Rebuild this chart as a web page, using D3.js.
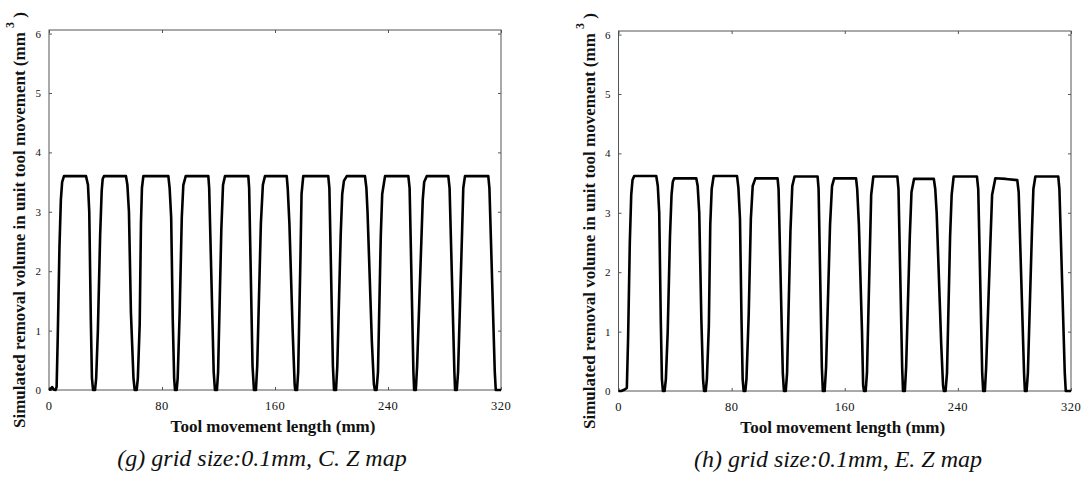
<!DOCTYPE html>
<html>
<head>
<meta charset="utf-8">
<script src="https://cdn.jsdelivr.net/npm/d3@7"></script>
<style>
  body { margin: 0; background: #fff; }
  svg { display: block; }
  text { font-family: "Liberation Serif", "Times New Roman", serif; fill: #111; }
</style>
</head>
<body>
<svg id="dessin" width="1085" height="483"></svg>
<script>
// axes
const xTicks = [0, 80, 160, 240, 320];
const yTicks = [0, 1, 2, 3, 4, 5, 6];

// (g) grid size 0.1mm, C. Z map (mm, mm3)
const gX = [0, 1.2, 2.2, 3.2, 4.6, 5.4, 6.2, 7.4, 8.4, 9.3, 10.6,
  26.2, 27.6, 28.5, 29.6, 30.4, 31.2, 32.6, 33.4, 34.6, 36.2, 37.3, 38.0, 38.9,
  54.5, 55.5, 56.6, 58.0, 59.8, 60.7, 62.1, 62.9, 64.2, 65.1, 65.8, 66.8,
  84.5, 85.4, 86.5, 87.6, 88.6, 89.2, 90.4, 91.1, 92.5, 94.0, 95.1, 96.8,
  112.8, 113.4, 116.6, 117.5, 118.9, 119.7, 122.0, 123.2, 124.6,
  141.1, 141.7, 144.1, 145.1, 146.5, 147.4, 150.0, 151.4, 152.9,
  168.3, 169.0, 170.2, 172.5, 173.9, 174.3, 175.6, 176.4, 178.0, 178.8, 180.0,
  197.7, 198.5, 201.0, 201.8, 203.2, 204.1, 206.5, 207.6, 208.8, 210.8,
  223.7, 224.7, 225.5, 228.6, 230.0, 230.7, 231.9, 232.9, 234.9, 235.9, 237.9,
  254.4, 255.3, 258.0, 258.5, 259.7, 260.6, 263.6, 264.6, 265.6, 267.4,
  282.7, 283.6, 287.0, 287.5, 288.7, 289.6, 292.5, 293.3, 294.5,
  311.0, 311.8, 315.6, 316.3, 320];
const gY = [0, 0.02, 0.05, 0.01, 0, 0.05, 0.9, 2.4, 3.2, 3.5, 3.6,
  3.6, 3.45, 3.0, 1.2, 0.2, 0, 0, 0.2, 1.0, 2.6, 3.35, 3.55, 3.6,
  3.6, 3.45, 3.0, 1.3, 0.2, 0, 0, 0.2, 1.1, 2.8, 3.4, 3.6,
  3.6, 3.4, 2.9, 1.2, 0.2, 0, 0, 0.2, 1.3, 2.9, 3.45, 3.6,
  3.6, 3.4, 0.3, 0, 0, 0.3, 2.7, 3.45, 3.6,
  3.6, 3.4, 0.4, 0, 0, 0.4, 2.8, 3.45, 3.6,
  3.6, 3.4, 2.8, 1.0, 0.1, 0, 0, 0.3, 2.2, 3.3, 3.6,
  3.6, 3.4, 0.4, 0, 0, 0.4, 2.6, 3.3, 3.52, 3.6,
  3.6, 3.4, 3.0, 0.8, 0.1, 0, 0, 0.3, 2.6, 3.3, 3.6,
  3.6, 3.4, 0.3, 0, 0, 0.4, 2.5, 3.2, 3.5, 3.6,
  3.6, 3.4, 0.3, 0, 0, 0.3, 2.7, 3.4, 3.6,
  3.6, 3.4, 0.3, 0, 0];

// (h) grid size 0.1mm, E. Z map
const hX = [0, 2.0, 4.0, 5.9, 6.8, 8.0, 9.0, 9.9, 11.1,
  26.7, 27.8, 28.8, 29.9, 30.7, 31.4, 32.6, 33.5, 34.8, 36.4, 37.5, 38.4, 39.4,
  55.0, 56.0, 57.1, 58.6, 59.8, 60.5, 61.7, 62.5, 63.9, 64.9, 65.9, 67.3,
  83.8, 84.8, 85.9, 87.0, 87.8, 88.5, 89.7, 90.5, 92.1, 93.6, 94.9, 96.8,
  112.5, 113.2, 116.2, 117.0, 118.3, 119.2, 121.6, 122.9, 124.5,
  140.8, 141.5, 143.8, 144.5, 145.8, 146.8, 149.6, 151.0, 152.5,
  168.0, 168.8, 170.0, 172.2, 173.0, 173.6, 174.8, 175.7, 177.6, 178.7, 180.2,
  197.2, 198.0, 200.6, 201.2, 202.5, 203.4, 206.0, 207.2, 209.0,
  223.0, 224.0, 225.0, 228.2, 229.5, 230.1, 231.3, 232.3, 234.5, 235.6, 237.0,
  253.5, 254.4, 257.2, 257.9, 259.1, 260.0, 263.0, 264.2, 266.5,
  274.0, 282.0, 283.0, 286.8, 287.4, 288.6, 289.5, 292.4, 293.4, 294.8,
  311.0, 311.8, 315.6, 316.3, 320];
const hY = [0, 0, 0.02, 0.05, 0.9, 2.5, 3.3, 3.55, 3.62,
  3.62, 3.45, 3.0, 1.2, 0.2, 0, 0, 0.2, 1.0, 2.6, 3.3, 3.52, 3.58,
  3.58, 3.45, 3.0, 1.2, 0.2, 0, 0, 0.2, 1.1, 2.8, 3.4, 3.62,
  3.62, 3.42, 2.9, 1.2, 0.2, 0, 0, 0.2, 1.3, 2.9, 3.45, 3.58,
  3.58, 3.4, 0.3, 0, 0, 0.3, 2.7, 3.45, 3.61,
  3.61, 3.4, 0.4, 0, 0, 0.4, 2.8, 3.45, 3.58,
  3.58, 3.4, 2.8, 1.0, 0.1, 0, 0, 0.3, 2.2, 3.3, 3.61,
  3.61, 3.4, 0.4, 0, 0, 0.4, 2.6, 3.35, 3.57,
  3.57, 3.4, 3.0, 0.8, 0.1, 0, 0, 0.3, 2.6, 3.3, 3.61,
  3.61, 3.4, 0.3, 0, 0, 0.4, 2.5, 3.3, 3.58,
  3.57, 3.55, 3.35, 0.3, 0, 0, 0.3, 2.7, 3.4, 3.61,
  3.61, 3.4, 0.3, 0, 0];

const svg = d3.select("#dessin");

function drawPanel(xs, ys, x0, x1, yBottom, yTop, caption, capX) {
    const x = d3.scaleLinear().domain([0, 320]).range([x0, x1]);
    const y = d3.scaleLinear().domain([0, 6.06]).range([yBottom, yTop]);
    const g = svg.append("g");

    // cadre
    g.append("rect")
        .attr("x", x0).attr("y", yTop)
        .attr("width", x1 - x0).attr("height", yBottom - yTop)
        .style("fill", "none").style("stroke", "#555").style("stroke-width", 1);

    // ticks vers l'interieur sur les 4 cotés
    g.append("g").attr("transform", `translate(0,${yBottom})`)
        .call(d3.axisBottom(x).tickValues(xTicks).tickSizeInner(-3).tickSizeOuter(0).tickFormat(""))
        .call(a => a.select(".domain").remove());
    g.append("g").attr("transform", `translate(0,${yTop})`)
        .call(d3.axisTop(x).tickValues(xTicks).tickSizeInner(-3).tickSizeOuter(0).tickFormat(""))
        .call(a => a.select(".domain").remove());
    g.append("g").attr("transform", `translate(${x0},0)`)
        .call(d3.axisLeft(y).tickValues(yTicks).tickSizeInner(-3).tickSizeOuter(0).tickFormat(""))
        .call(a => a.select(".domain").remove());
    g.append("g").attr("transform", `translate(${x1},0)`)
        .call(d3.axisRight(y).tickValues(yTicks).tickSizeInner(-3).tickSizeOuter(0).tickFormat(""))
        .call(a => a.select(".domain").remove());
    g.selectAll(".tick line").style("stroke", "#555");

    // labels des ticks
    g.selectAll(".xlab").data(xTicks).enter().append("text")
        .attr("x", d => x(d)).attr("y", yBottom + 20)
        .attr("text-anchor", "middle")
        .style("font-size", "12.5px").style("letter-spacing", "0.5px")
        .text(d => d);
    g.selectAll(".ylab").data(yTicks).enter().append("text")
        .attr("x", x0 - 8).attr("y", d => y(d) + 4)
        .attr("text-anchor", "end")
        .style("font-size", "11px")
        .text(d => d);

    // courbe
    const pts = xs.map((v, i) => [v, ys[i]]);
    g.append("path")
        .datum(pts)
        .attr("d", d3.line().x(d => x(d[0])).y(d => y(d[1])))
        .style("fill", "none").style("stroke", "#000")
        .style("stroke-width", 2.6).style("stroke-linejoin", "round");

    // titres
    g.append("text")
        .attr("x", (x0 + x1) / 2 - 2).attr("y", yBottom + 42)
        .attr("text-anchor", "middle")
        .style("font-size", "17px").style("font-weight", "bold")
        .text("Tool movement length (mm)");

    const yt = g.append("text")
        .attr("transform", `translate(${x0 - 24},${(yBottom + yTop) / 2 + 10}) rotate(-90)`)
        .attr("text-anchor", "middle")
        .style("font-size", "17px").style("font-weight", "bold");
    yt.append("tspan").text("Simulated removal volume in unit tool movement (mm ");
    yt.append("tspan").attr("dy", -11).style("font-size", "12px").text("3");
    yt.append("tspan").attr("dy", 11).text(" )");

    g.append("text")
        .attr("x", capX).attr("y", yBottom + 76)
        .attr("text-anchor", "middle")
        .style("font-size", "24px").style("font-style", "italic")
        .text(caption);
}

drawPanel(gX, gY, 49, 501, 390, 30, "(g) grid size:0.1mm, C. Z map", 262);
drawPanel(hX, hY, 618.5, 1071, 391, 31, "(h) grid size:0.1mm, E. Z map", 838);
</script>
</body>
</html>
